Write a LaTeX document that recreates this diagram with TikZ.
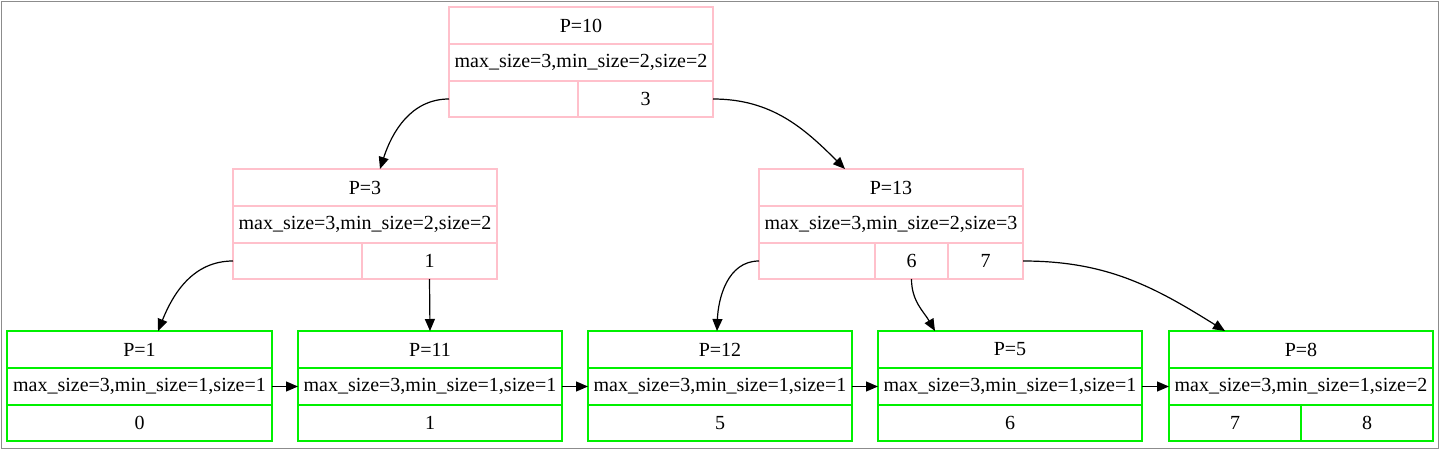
\documentclass[tikz,border=0pt]{standalone}
\usepackage{fontspec}
\setmainfont{Liberation Serif}
\usetikzlibrary{arrows.meta}
\definecolor{pinkc}{RGB}{255,192,203}
\definecolor{greenc}{RGB}{0,240,0}
\definecolor{framec}{RGB}{140,140,140}
\newcommand\recCell[7]{%
  \pgfmathsetmacro\cx{(#3+#4)/2}\pgfmathsetmacro\cy{(#5+#6)/2}%
  \pgfmathsetmacro\cw{(#4-#3)*0.75}\pgfmathsetmacro\ch{(#6-#5)*0.75}%
  \node[#1, minimum width=\cw pt, minimum height=\ch pt] (#2) at (\cx,\cy) {#7};}
\begin{document}
\begin{tikzpicture}[x=0.75pt,y=-0.75pt,
  inner/.style={draw=pinkc, line width=0.9pt, inner sep=0pt, outer sep=0pt, font=\fontsize{15}{17}\selectfont},
  leaf/.style={draw=greenc, line width=0.85pt, inner sep=0pt, outer sep=0pt, font=\fontsize{15}{17}\selectfont},
  edge/.style={line width=0.9pt, -{Triangle[length=9pt,width=7.5pt]}}]
\useasboundingbox (0,0) rectangle (1440,450);
\draw[framec, line width=0.75pt] (1,1) rectangle (1438,448);
% P=10
\recCell{inner}{a1}{449}{713}{7}{44}{P=10}
\recCell{inner}{a2}{449}{713}{44}{81}{max\_size=3,min\_size=2,size=2}
\recCell{inner}{a3}{449}{578}{81}{117}{}
\recCell{inner}{a4}{578}{713}{81}{117}{3}
% P=3
\recCell{inner}{b1}{233}{497}{169}{206}{P=3}
\recCell{inner}{b2}{233}{497}{206}{243}{max\_size=3,min\_size=2,size=2}
\recCell{inner}{b3}{233}{362}{243}{279}{}
\recCell{inner}{b4}{362}{497}{243}{279}{1}
% P=13
\recCell{inner}{c1}{759}{1023}{169}{206}{P=13}
\recCell{inner}{c2}{759}{1023}{206}{243}{max\_size=3,min\_size=2,size=3}
\recCell{inner}{c3}{759}{875}{243}{279}{}
\recCell{inner}{c4}{875}{948}{243}{279}{6}
\recCell{inner}{c5}{948}{1023}{243}{279}{7}
% leaves
\recCell{leaf}{d1}{7}{272}{331}{368}{P=1}
\recCell{leaf}{d2}{7}{272}{368}{405}{max\_size=3,min\_size=1,size=1}
\recCell{leaf}{d3}{7}{272}{405}{441}{0}
\recCell{leaf}{e1}{298}{562}{331}{368}{P=11}
\recCell{leaf}{e2}{298}{562}{368}{405}{max\_size=3,min\_size=1,size=1}
\recCell{leaf}{e3}{298}{562}{405}{441}{1}
\recCell{leaf}{f1}{588}{852}{331}{368}{P=12}
\recCell{leaf}{f2}{588}{852}{368}{405}{max\_size=3,min\_size=1,size=1}
\recCell{leaf}{f3}{588}{852}{405}{441}{5}
\recCell{leaf}{g1}{878}{1142}{331}{368}{P=5}
\recCell{leaf}{g2}{878}{1142}{368}{405}{max\_size=3,min\_size=1,size=1}
\recCell{leaf}{g3}{878}{1142}{405}{441}{6}
\recCell{leaf}{h1}{1169}{1433}{331}{368}{P=8}
\recCell{leaf}{h2}{1169}{1433}{368}{405}{max\_size=3,min\_size=1,size=2}
\recCell{leaf}{h3}{1169}{1301}{405}{441}{7}
\recCell{leaf}{h4}{1301}{1433}{405}{441}{8}
% tree edges
\draw[edge] (a3.west) to[out=180,in=72] ([xshift=11.25pt]b1.north);
\draw[edge] (a4.east) to[out=0,in=135] ([xshift=-34.5pt]c1.north);
\draw[edge] (b3.west) to[out=180,in=68] ([xshift=13.9pt]d1.north);
\draw[edge] (b4.south) -- (e1.north);
\draw[edge] (c3.west) to[out=180,in=88] ([xshift=-2.25pt]f1.north);
\draw[edge] (c4.south) to[out=-90,in=120] ([xshift=-56.25pt]g1.north);
\draw[edge] (c5.east) to[out=0,in=148] ([xshift=-57pt]h1.north);
% sibling links
\draw[edge] (d2.east) -- (e2.west);
\draw[edge] (e2.east) -- (f2.west);
\draw[edge] (f2.east) -- (g2.west);
\draw[edge] (g2.east) -- (h2.west);
\end{tikzpicture}
\end{document}
